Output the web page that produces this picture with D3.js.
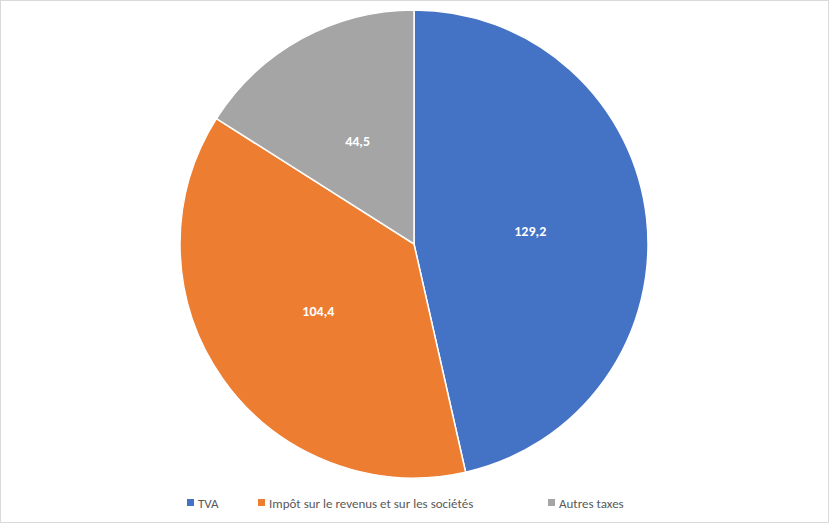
<!DOCTYPE html>
<html><head><meta charset="utf-8">
<script src="https://cdn.jsdelivr.net/npm/d3@7"></script>
<style>body{margin:0;background:#fff}svg{display:block}</style>
</head><body>
<svg id="chart" width="829" height="523"></svg>
<script>
var categories = ['TVA', 'Impôt sur le revenus et sur les sociétés', 'Autres taxes'];
var values = [129.2, 104.4, 44.5];
var colors = ['#4472C4', '#ED7D31', '#A5A5A5'];

var svg = d3.select('#chart');
var width = 829, height = 523;
var cx = 414, cy = 244, radius = 234;

svg.append('rect').attr('x', 0.5).attr('y', 0.5)
  .attr('width', width - 1).attr('height', height - 1)
  .attr('fill', '#fff').attr('stroke', '#d9d9d9');

var data = categories.map(function (c, i) { return { name: c, value: values[i], color: colors[i] }; });

var pie = d3.pie().sort(null).value(function (d) { return d.value; });
var arc = d3.arc().innerRadius(0).outerRadius(radius);
var labelArc = d3.arc().innerRadius(radius * 0.5).outerRadius(radius * 0.5);

var g = svg.append('g').attr('transform', 'translate(' + cx + ',' + cy + ')');

var slices = g.selectAll('.slice').data(pie(data)).enter().append('g').attr('class', 'slice');

slices.append('path')
  .attr('d', arc)
  .attr('fill', function (d) { return d.data.color; })
  .attr('stroke', '#fff')
  .attr('stroke-width', 1.5);

slices.append('text')
  .attr('transform', function (d) { return 'translate(' + labelArc.centroid(d) + ')'; })
  .attr('text-anchor', 'middle')
  .attr('dy', '0.35em')
  .style('font-family', 'Calibri, Carlito, "Open Sans", sans-serif')
  .style('font-size', '14px')
  .style('font-weight', 'bold')
  .attr('fill', '#fff')
  .text(function (d) { return d3.format('.1f')(d.data.value).replace('.', ','); });

// legend
var legend = svg.append('g').attr('transform', 'translate(0,503)');
var xPos = [187, 258, 548];
var items = legend.selectAll('.item').data(data).enter().append('g')
  .attr('transform', function (d, i) { return 'translate(' + xPos[i] + ',0)'; });
items.append('rect').attr('x', 0).attr('y', -4).attr('width', 7).attr('height', 7)
  .attr('fill', function (d) { return d.color; });
items.append('text').attr('x', 11).attr('dy', '0.35em')
  .style('font-family', 'Calibri, Carlito, "Open Sans", sans-serif')
  .style('font-size', '13px')
  .attr('fill', '#595959')
  .text(function (d) { return d.name; });
</script>
</body></html>
